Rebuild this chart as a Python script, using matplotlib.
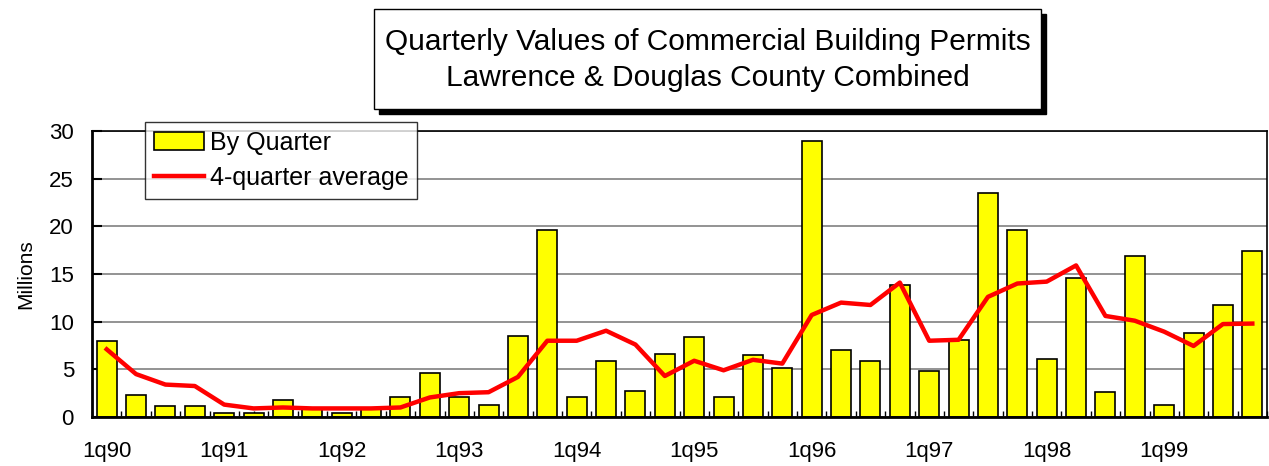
import matplotlib
matplotlib.use("Agg")
import matplotlib.pyplot as plt
from matplotlib.patches import Rectangle
import numpy as np

plt.rcParams['font.family'] = ['Liberation Sans', 'DejaVu Sans']

# quarters 1q90 .. 4q99
quarters = [f"{q}q{y}" for y in range(90, 100) for q in range(1, 5)]

# value of permits by quarter (millions)
by_quarter = [8.0, 2.3, 1.2, 1.2, 0.4, 0.4, 1.8, 0.8,
              0.4, 0.8, 2.1, 4.6, 2.1, 1.3, 8.5, 19.6,
              2.1, 5.9, 2.7, 6.6, 8.4, 2.1, 6.5, 5.1,
              29.0, 7.0, 5.9, 13.8, 4.8, 8.1, 23.5, 19.6,
              6.1, 14.6, 2.6, 16.9, 1.3, 8.8, 11.8, 17.4]

# 4-quarter average (millions)
avg4 = [7.1, 4.5, 3.4, 3.25, 1.3, 0.9, 1.0, 0.9,
        0.9, 0.9, 1.0, 2.05, 2.5, 2.6, 4.2, 8.0,
        8.0, 9.05, 7.6, 4.3, 5.9, 4.9, 6.0, 5.6,
        10.7, 12.0, 11.75, 14.1, 8.0, 8.1, 12.6, 14.0,
        14.2, 15.9, 10.6, 10.1, 8.95, 7.45, 9.75, 9.8]

fig = plt.figure(figsize=(12.69, 4.66), dpi=100)
W, H = 1269, 466
ax = fig.add_axes([92 / W, 1 - 417 / H, (1267 - 92) / W, (417 - 131) / H])

x = np.arange(len(quarters))
bars = ax.bar(x, by_quarter, width=0.68, color='#FFFF00', edgecolor='black',
              linewidth=1.2, label='By Quarter', zorder=2)
line, = ax.plot(x, avg4, color='#FF0000', linewidth=3.2,
                label='4-quarter average', zorder=3)

ax.set_xlim(-0.5, len(quarters) - 0.5)
ax.set_ylim(0, 30)
ax.set_yticks(range(0, 31, 5))
ax.yaxis.grid(True, color='#808080', linewidth=1.2, zorder=0)
ax.set_axisbelow(True)

# category labels every 4th quarter
ax.set_xticks(x[::4])
ax.set_xticklabels(quarters[::4])
ax.set_xticks(np.arange(-0.5, len(quarters), 0.5), minor=True)
ax.tick_params(axis='x', which='major', length=0, pad=17, labelsize=16)
ax.tick_params(axis='x', which='minor', direction='in', length=4, width=1)
ax.tick_params(axis='y', direction='in', length=7, width=1.5, pad=13,
               labelsize=16)

for side in ['left', 'bottom']:
    ax.spines[side].set_linewidth(2)
for side in ['top', 'right']:
    ax.spines[side].set_linewidth(1.2)

ax.set_ylabel('Millions', fontsize=15, labelpad=10)

leg = fig.legend([bars, line], ['By Quarter', '4-quarter average'],
                 loc='upper left', bbox_to_anchor=(145 / W, 1 - 122 / H),
                 fontsize=18, frameon=True, fancybox=False,
                 edgecolor='black', borderpad=0.35, labelspacing=0.45,
                 handlelength=2.0, handletextpad=0.25, borderaxespad=0)
leg.get_frame().set_linewidth(1)

# title box with drop shadow
bx0, by0, bx1, by1 = 374, 9, 1041, 109
fig.patches.append(Rectangle(((bx0 + 5) / W, 1 - (by1 + 5) / H),
                             (bx1 - bx0) / W, (by1 - by0) / H,
                             transform=fig.transFigure, facecolor='black',
                             edgecolor='black', zorder=1))
fig.patches.append(Rectangle((bx0 / W, 1 - by1 / H),
                             (bx1 - bx0) / W, (by1 - by0) / H,
                             transform=fig.transFigure, facecolor='white',
                             edgecolor='black', linewidth=1, zorder=2))
fig.text((bx0 + bx1) / 2 / W, 1 - 60 / H,
         'Quarterly Values of Commercial Building Permits\n'
         'Lawrence & Douglas County Combined',
         ha='center', va='center', fontsize=21.5, linespacing=1.35, zorder=3)

fig.savefig('out.png', dpi=100)
